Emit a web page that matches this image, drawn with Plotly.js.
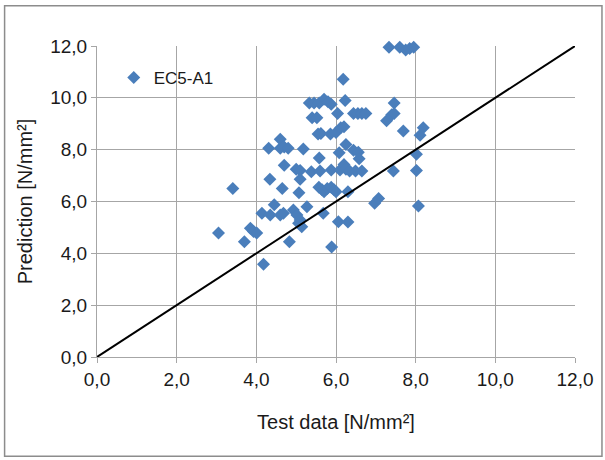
<!DOCTYPE html>
<html>
<head>
<meta charset="utf-8">
<script src="https://cdn.plot.ly/plotly-3.0.1.min.js"></script>
<style>html,body{margin:0;padding:0;background:#fff;}#chart{width:605px;height:460px;}</style>
</head>
<body>
<div id="chart"></div>
<script>
const testData = [7.33,7.6,7.75,7.85,7.95,6.18,6.23,5.33,5.45,5.58,5.7,5.8,5.88,7.46,6.04,6.44,6.55,6.65,6.75,7.27,7.4,7.46,5.4,5.52,7.69,5.55,5.62,5.86,6.0,6.12,6.2,8.11,8.19,4.6,4.31,4.6,4.7,4.8,5.18,6.25,6.08,6.44,6.56,6.58,8.02,5.58,4.7,5.0,5.1,5.38,5.6,5.88,6.1,6.2,6.25,6.34,6.49,6.65,7.44,8.02,4.34,5.1,3.41,4.65,5.07,5.57,5.65,5.7,5.78,5.88,5.95,6.0,6.3,6.97,7.07,8.07,4.45,5.27,4.93,5.02,5.1,4.14,4.35,4.6,4.68,5.06,5.14,6.06,6.3,5.68,3.05,3.85,3.93,4.01,3.7,4.83,5.89,4.18];
const prediction = [11.95,11.95,11.85,11.9,11.95,10.72,9.9,9.8,9.8,9.8,9.95,9.85,9.75,9.8,9.4,9.4,9.4,9.4,9.4,9.12,9.35,9.4,9.23,9.23,8.72,8.6,8.62,8.6,8.66,8.85,8.88,8.56,8.85,8.4,8.05,8.05,8.1,8.05,8.03,8.2,7.88,7.98,7.9,7.65,7.82,7.68,7.4,7.24,7.2,7.15,7.18,7.22,7.22,7.43,7.24,7.18,7.18,7.18,7.18,7.2,6.86,6.86,6.5,6.5,6.34,6.55,6.45,6.38,6.5,6.55,6.45,6.38,6.38,5.93,6.12,5.83,5.87,5.8,5.67,5.48,5.29,5.55,5.48,5.48,5.55,5.16,5.03,5.22,5.21,5.55,4.78,4.97,4.84,4.78,4.45,4.45,4.24,3.58];
const lineX = [0, 12];
const lineY = [0, 12];
const tickVals = [0, 2, 4, 6, 8, 10, 12];
const seriesName = 'EC5-A1';

const fontFam = '"Liberation Sans", Arial, sans-serif';
const traces = [
  {x: testData, y: prediction, type: 'scatter', mode: 'markers', name: seriesName, cliponaxis: false,
   marker: {symbol: 'diamond', size: 10, color: '#4a7ebb'}},
  {x: lineX, y: lineY, type: 'scatter', mode: 'lines', showlegend: false,
   line: {color: '#000', width: 2}}
];
const axisCommon = {
  range: [0, 12], tickvals: tickVals, tickformat: '.1f',
  showgrid: true, gridcolor: '#a6a6a6', gridwidth: 1,
  showline: true, linecolor: '#a6a6a6', linewidth: 1, mirror: false,
  ticks: 'outside', ticklen: 5, tickcolor: '#a6a6a6',
  zeroline: false, tickfont: {family: fontFam, size: 19, color: '#1a1a1a'}
};
const layout = {
  width: 605, height: 460,
  margin: {l: 96.5, r: 30, t: 45.5, b: 102.5},
  paper_bgcolor: '#fff', plot_bgcolor: '#fff',
  separators: ', ',
  font: {family: fontFam, color: '#1a1a1a'},
  xaxis: Object.assign({}, axisCommon, {
    title: {text: 'Test data [N/mm²]', font: {family: fontFam, size: 20, color: '#1a1a1a'}, standoff: 26}
  }),
  yaxis: Object.assign({}, axisCommon, {
    title: {text: 'Prediction [N/mm²]', font: {family: fontFam, size: 20, color: '#1a1a1a'}, standoff: 12}
  }),
  legend: {x: 0.035, y: 0.955, xanchor: 'left', yanchor: 'top', bgcolor: 'rgba(0,0,0,0)',
    font: {family: fontFam, size: 17, color: '#1a1a1a'}},
  showlegend: true,
  shapes: [{type: 'rect', xref: 'paper', yref: 'paper',
    x0: (4 - 96.5) / 478.5, x1: (602 - 96.5) / 478.5,
    y0: (357.5 - 457) / 312, y1: (357.5 - 5) / 312,
    line: {color: '#8c8c8c', width: 1.5}, fillcolor: 'rgba(0,0,0,0)', layer: 'below'}]
};
Plotly.newPlot('chart', traces, layout, {displayModeBar: false, staticPlot: true});
</script>
</body>
</html>
